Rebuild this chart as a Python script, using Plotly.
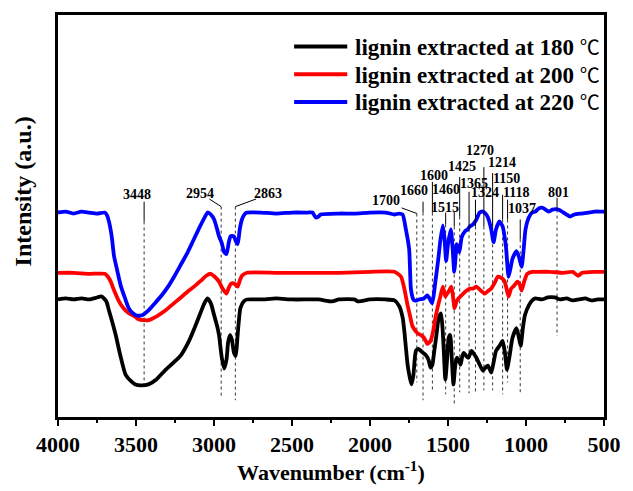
import plotly.graph_objects as go

# ---------------- FTIR spectra (intensity in arbitrary units) ----------------
wavenumber_180 = [4000, 3950, 3900, 3850, 3800, 3750, 3720, 3690, 3672, 3650, 3630, 3600, 3567, 3530,
                  3504, 3470, 3420, 3370, 3315, 3260, 3210, 3160, 3125, 3090, 3062, 3041, 3020, 2999,
                  2980, 2968, 2950, 2935, 2920, 2910, 2898, 2885, 2872, 2860, 2850, 2831, 2810, 2789,
                  2700, 2600, 2500, 2400, 2330, 2243, 2200, 2100, 2077, 2000, 1900, 1843, 1812, 1790,
                  1780, 1759, 1745, 1734, 1722, 1706, 1690, 1675, 1644, 1625, 1612, 1600, 1591, 1575,
                  1560, 1545, 1535, 1528, 1517, 1505, 1496, 1486, 1476, 1465, 1455, 1444, 1432, 1419,
                  1408, 1398, 1385, 1370, 1349, 1335, 1318, 1300, 1276, 1260, 1244, 1223, 1208, 1192,
                  1170, 1150, 1135, 1122, 1105, 1087, 1061, 1045, 1034, 1020, 1007, 982, 960, 940,
                  900, 860, 815, 780, 740, 700, 660, 620, 580, 540, 500]
intensity_180 = [119, 120, 119, 120, 119, 121, 122, 117, 107, 95, 83, 62, 43, 36,
                 33, 32, 33, 38, 47, 55, 63, 77, 90, 104, 115, 120, 115, 103,
                 92, 83, 60, 49, 58, 75, 83, 78, 65, 62, 80, 110, 117, 119,
                 119, 120, 119, 119, 119, 117, 119, 119, 117, 119, 119, 118, 112, 100,
                 87, 53, 40, 33, 42, 67, 69, 67, 63, 58, 50, 53, 63, 82,
                 100, 105, 90, 70, 38, 60, 80, 83, 60, 33, 50, 60, 58, 53,
                 62, 65, 62, 60, 67, 64, 60, 54, 47, 50, 52, 45, 55, 67,
                 72, 77, 65, 48, 62, 80, 90, 80, 72, 90, 103, 113, 118, 120,
                 119, 121, 121, 119, 120, 118, 119, 120, 118, 119, 119]

wavenumber_200 = [4000, 3900, 3800, 3700, 3680, 3662, 3640, 3609, 3580, 3546, 3510, 3483, 3450, 3420,
                  3390, 3357, 3310, 3273, 3220, 3168, 3120, 3084, 3050, 3021, 2995, 2968, 2945, 2920,
                  2905, 2890, 2869, 2848, 2835, 2821, 2789, 2600, 2400, 2200, 2000, 1843, 1801, 1780,
                  1759, 1740, 1728, 1696, 1665, 1645, 1633, 1612, 1595, 1581, 1565, 1549, 1533, 1517,
                  1505, 1496, 1479, 1468, 1458, 1445, 1433, 1402, 1380, 1360, 1340, 1318, 1290, 1265,
                  1240, 1223, 1200, 1181, 1160, 1139, 1125, 1112, 1095, 1076, 1055, 1040, 1028, 1010,
                  992, 960, 940, 850, 760, 700, 666, 640, 560, 500]
intensity_200 = [146, 146, 145, 145, 142, 137, 128, 117, 110, 105, 102, 99, 98, 98,
                 100, 103, 108, 113, 120, 127, 133, 138, 143, 145, 142, 137, 130, 125,
                 131, 135, 135, 132, 138, 143, 146, 146, 146, 146, 147, 147, 142, 130,
                 113, 100, 92, 85, 82, 78, 74, 77, 87, 100, 112, 122, 132, 122,
                 125, 127, 132, 122, 110, 117, 120, 125, 128, 130, 130, 132, 128, 125,
                 128, 130, 136, 142, 141, 138, 130, 122, 130, 133, 137, 134, 128, 138,
                 145, 147, 147, 147, 146, 147, 143, 146, 147, 147]

wavenumber_220 = [4000, 3950, 3900, 3850, 3800, 3750, 3700, 3685, 3672, 3655, 3641, 3620, 3598, 3570,
                  3546, 3520, 3500, 3462, 3420, 3380, 3336, 3290, 3252, 3210, 3168, 3135, 3105, 3070,
                  3041, 3020, 2999, 2980, 2968, 2950, 2935, 2920, 2905, 2894, 2873, 2860, 2848, 2835,
                  2821, 2800, 2789, 2700, 2600, 2500, 2400, 2369, 2348, 2330, 2316, 2200, 2100, 2000,
                  1900, 1843, 1815, 1791, 1770, 1749, 1738, 1725, 1717, 1700, 1686, 1654, 1633, 1615,
                  1602, 1590, 1581, 1570, 1560, 1548, 1533, 1522, 1512, 1500, 1482, 1470, 1460, 1450,
                  1444, 1436, 1427, 1412, 1391, 1374, 1360, 1339, 1318, 1297, 1276, 1260, 1244, 1223,
                  1208, 1192, 1171, 1150, 1129, 1112, 1100, 1087, 1061, 1045, 1028, 1015, 1003, 982,
                  960, 940, 920, 897, 875, 855, 830, 792, 760, 740, 718, 690, 645, 600,
                  560, 520, 500]
intensity_220 = [207, 208, 206, 208, 207, 206, 207, 204, 197, 182, 163, 148, 133, 120,
                 110, 105, 103, 103, 108, 115, 123, 133, 143, 155, 167, 178, 188, 199,
                 207, 205, 200, 190, 183, 176, 167, 165, 177, 183, 183, 178, 175, 190,
                 200, 206, 207, 207, 206, 207, 207, 207, 202, 203, 205, 206, 206, 207,
                 207, 205, 206, 205, 190, 170, 130, 120, 118, 118, 119, 120, 123, 119,
                 115, 125, 137, 150, 163, 180, 194, 180, 158, 175, 190, 170, 147, 165,
                 175, 170, 167, 182, 188, 190, 193, 195, 200, 207, 208, 206, 202, 190,
                 177, 190, 198, 193, 173, 142, 150, 160, 168, 162, 152, 170, 190, 202,
                 207, 208, 211, 212, 210, 208, 210, 210, 207, 205, 203, 205, 206, 207,
                 208, 208, 208]

series_temps = ["180", "200", "220"]
series_colors = ["#000000", "#ff0000", "#0000ff"]

# ---------------- assigned absorption bands ----------------
peak_positions = [3448, 2954, 2863, 1700, 1660, 1600, 1515, 1460, 1425,
                  1365, 1324, 1270, 1214, 1150, 1118, 1037, 801]

# placement of each band label: text position, short solid tick / slanted
# leader (start point), and where the dotted guide ends
peak_style = {
    3448: dict(tx=3495, ty=225, solid=(218, 198), dot_end=32),
    2954: dict(tx=3090, ty=226, leader=(3030, 220.7, 213), dot_end=20),
    2863: dict(tx=2653, ty=226, leader=(2730, 220.7, 213), dot_end=17),
    1700: dict(tx=1896, ty=219, leader=(1797, 211.7, 206), dot_end=35),
    1660: dict(tx=1720, ty=229, solid=(218, 207), dot_end=17),
    1600: dict(tx=1589, ty=245, solid=(238, 207), dot_end=27),
    1515: dict(tx=1517, ty=212, solid=(207, 195), dot_end=23),
    1460: dict(tx=1514, ty=230, solid=(208, 193), dot_end=12),
    1425: dict(tx=1413, ty=254, solid=(243, 203), dot_end=25),
    1365: dict(tx=1336, ty=236, solid=(228, 190), dot_end=24),
    1324: dict(tx=1262, ty=227, solid=(220, 193), dot_end=23),
    1270: dict(tx=1297, ty=270, solid=(253, 193), dot_end=27),
    1214: dict(tx=1156, ty=258, solid=(247, 193), dot_end=27),
    1150: dict(tx=1124, ty=241, solid=(225, 200), dot_end=23),
    1118: dict(tx=1061, ty=227, solid=(220, 200), dot_end=35),
    1037: dict(tx=1028, ty=211, solid=(200, 180), dot_end=23),
    801:  dict(tx=792,  ty=227, solid=(222, 210), dot_end=82),
}

x_ticks = [4000, 3500, 3000, 2500, 2000, 1500, 1000, 500]

SERIF = "Liberation Serif, Times New Roman, serif"

fig = go.Figure()

for wn, inten, temp, color in zip(
        [wavenumber_180, wavenumber_200, wavenumber_220],
        [intensity_180, intensity_200, intensity_220],
        series_temps, series_colors):
    fig.add_trace(go.Scatter(
        x=wn, y=inten, mode="lines", name=f"lignin extracted at {temp} ℃", showlegend=False,
        line=dict(color=color, width=3.8, shape="spline", smoothing=0.55),
    ))

shapes = []
annotations = []
for p in peak_positions:
    st = peak_style[p]
    if "leader" in st:
        lx, ly, top = st["leader"]
        shapes.append(dict(type="line", xref="x", yref="y", x0=lx, y0=ly, x1=p, y1=top,
                           line=dict(color="black", width=1)))
    else:
        top = st["solid"][1]
        shapes.append(dict(type="line", xref="x", yref="y", x0=p, y0=st["solid"][0], x1=p, y1=top,
                           line=dict(color="black", width=1)))
    shapes.append(dict(type="line", xref="x", yref="y", x0=p, y0=top, x1=p, y1=st["dot_end"],
                       line=dict(color="#333333", width=1, dash="dot"), layer="below"))
    annotations.append(dict(x=st["tx"], y=st["ty"], xref="x", yref="y", text=str(p),
                            showarrow=False, xanchor="center", yanchor="middle",
                            font=dict(family=SERIF, size=14, color="black", weight="bold")))

# legend drawn as line samples with text
legend_rows = [0.9214, 0.8526, 0.7838]
for temp, color, yr in zip(series_temps, series_colors, legend_rows):
    shapes.append(dict(type="line", xref="paper", yref="paper", x0=0.4324, x1=0.5297,
                       y0=yr, y1=yr, line=dict(color=color, width=4)))
    label = (f"lignin extracted at {temp} "
             "<span style='font-family:Noto Sans CJK SC;font-weight:normal;font-size:20px'>℃</span>")
    annotations.append(dict(x=0.5405, y=yr, xref="paper", yref="paper", text=label,
                            showarrow=False, xanchor="left", yanchor="middle",
                            font=dict(family=SERIF, size=23, color="black", weight="bold")))

annotations.append(dict(x=-0.065, y=0.56, xref="paper", yref="paper", text="Intensity (a.u.)",
                        textangle=-90, showarrow=False, xanchor="center", yanchor="middle",
                        font=dict(family=SERIF, size=24, color="black", weight="bold")))

fig.update_layout(
    width=633, height=491,
    margin=dict(l=58, r=20, t=13, b=71),
    paper_bgcolor="white", plot_bgcolor="white",
    shapes=shapes, annotations=annotations,
    showlegend=False,
)
fig.update_xaxes(
    range=[4000, 500], tickvals=x_ticks, ticktext=[str(t) for t in x_ticks],
    ticks="outside", ticklen=6, tickwidth=2, tickcolor="black",
    minor=dict(dtick=250, ticks="outside", ticklen=3, tickwidth=2, tickcolor="black"),
    showline=True, linewidth=2.5, linecolor="black", mirror=True,
    showgrid=False, zeroline=False,
    tickfont=dict(family=SERIF, size=22, color="black", weight="bold"),
    title=dict(text="Wavenumber (cm<sup>-1</sup>)", standoff=6,
               font=dict(family=SERIF, size=22, color="black", weight="bold")),
)
fig.update_yaxes(
    range=[0, 407], showticklabels=False, ticks="",
    showline=True, linewidth=2.5, linecolor="black", mirror=True,
    showgrid=False, zeroline=False,
)

fig.write_html("out.html")
